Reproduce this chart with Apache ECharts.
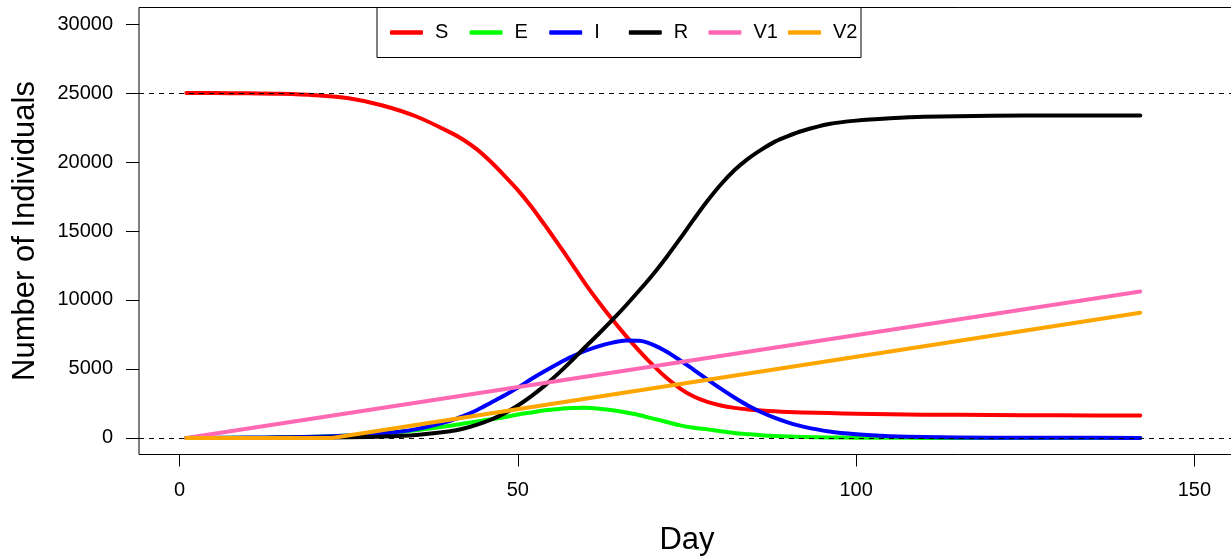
<!DOCTYPE html>
<html>
<head>
<meta charset="utf-8">
<script src="https://cdn.jsdelivr.net/npm/echarts@6/dist/echarts.min.js"></script>
<style>
html,body{margin:0;padding:0;background:#fff;}
#chart{width:1231px;height:558px;}
</style>
</head>
<body>
<div id="chart"></div>
<script>
// ---- data ----
const days    = [1, 5, 10, 15, 20, 25, 30, 35, 40, 42, 44, 46, 48, 50, 52, 54, 56, 58, 60, 62, 64, 66, 68, 70, 72, 74, 76, 78, 80, 82, 84, 86, 88, 90, 92, 96, 100, 105, 110, 120, 130, 142];
const sValues = [25000, 24995, 24980, 24940, 24840, 24620, 24100, 23300, 22150, 21600, 20900, 20020, 19020, 17960, 16760, 15420, 14030, 12600, 11150, 9820, 8560, 7380, 6280, 5260, 4340, 3580, 3000, 2610, 2350, 2180, 2070, 1990, 1930, 1880, 1850, 1800, 1760, 1720, 1690, 1660, 1640, 1625];
const eValues = [0, 5, 15, 35, 80, 170, 330, 560, 880, 1050, 1200, 1360, 1500, 1700, 1850, 2000, 2100, 2170, 2180, 2120, 2010, 1840, 1650, 1400, 1160, 910, 740, 620, 490, 360, 270, 190, 140, 100, 70, 35, 20, 8, 4, 1, 0, 0];
const iValues = [0, 10, 25, 45, 80, 170, 320, 640, 1250, 1600, 2030, 2550, 3070, 3650, 4270, 4850, 5400, 5900, 6320, 6660, 6910, 7060, 7040, 6750, 6250, 5620, 4940, 4250, 3570, 2930, 2350, 1860, 1450, 1110, 840, 470, 270, 130, 60, 20, 8, 5];
const rValues = [0, 0, 2, 8, 20, 45, 100, 220, 480, 680, 960, 1320, 1780, 2350, 3030, 3810, 4680, 5620, 6610, 7570, 8570, 9620, 10720, 11870, 13120, 14460, 15840, 17170, 18370, 19400, 20230, 20900, 21480, 21900, 22250, 22750, 23000, 23170, 23280, 23350, 23370, 23380];
const v1Days = [1, 142];
const v1Values = [0, 10620];
const v2Days = [1, 22.5, 142];
const v2Values = [0, 0, 9080];

const seriesNames = ['S', 'E', 'I', 'R', 'V1', 'V2'];
const seriesColors = ['#FF0000', '#00FF00', '#0000FF', '#000000', '#FF69B4', '#FFA500'];
const xTicks = [0, 50, 100, 150];
const yTicks = [0, 5000, 10000, 15000, 20000, 25000, 30000];
const refLines = [0, 25000];

const FONT = '"Liberation Sans", Arial, Helvetica, sans-serif';

function pairs(xs, ys) { return xs.map((x, i) => [x, ys[i]]); }
const seriesData = [
  pairs(days, sValues),
  pairs(days, eValues),
  pairs(days, iValues),
  pairs(days, rValues),
  pairs(v1Days, v1Values),
  pairs(v2Days, v2Values)
];

const series = seriesNames.map((name, k) => ({
  name: name,
  type: 'line',
  data: seriesData[k],
  showSymbol: false,
  symbol: 'none',
  smooth: k < 4 ? 0.3 : false,
  lineStyle: { color: seriesColors[k], width: 4, cap: 'round', join: 'round' },
  itemStyle: { color: seriesColors[k] },
  z: 2 + k
}));
// dashed horizontal reference lines drawn on top
series.push({
  name: 'ref',
  type: 'line',
  data: [],
  z: 20,
  markLine: {
    silent: true,
    symbol: ['none', 'none'],
    label: { show: false },
    lineStyle: { color: '#000', width: 1, type: [5, 5] },
    data: refLines.map(v => ({ yAxis: v }))
  }
});

const chart = echarts.init(document.getElementById('chart'), null, { renderer: 'canvas' });
chart.setOption({
  animation: false,
  backgroundColor: '#ffffff',
  grid: {
    left: 139, right: -4, top: 7.5, bottom: 103.5,
    containLabel: false,
    outerBoundsMode: 'none',
    show: true, borderColor: '#000', borderWidth: 1, backgroundColor: 'transparent'
  },
  legend: {
    data: seriesNames,
    left: 377, top: 7.5,
    orient: 'horizontal',
    padding: [15, 3, 15, 13],
    itemGap: 9.6,
    itemWidth: 33,
    itemHeight: 4.5,
    icon: 'roundRect',
    borderColor: '#000',
    borderWidth: 1,
    borderRadius: 0,
    backgroundColor: '#fff',
    selectedMode: false,
    textStyle: { fontFamily: FONT, fontSize: 20, color: '#000', width: 25, padding: [0, 0, 0, 7], lineHeight: 20 }
  },
  xAxis: {
    type: 'value',
    min: -6, max: 156,
    name: 'Day',
    nameLocation: 'middle',
    nameGap: 70,
    nameTextStyle: { fontFamily: FONT, fontSize: 31, color: '#000' },
    axisLine: { show: false, onZero: false },
    splitLine: { show: false },
    axisTick: { show: true, length: 12, lineStyle: { color: '#000', width: 1 }, customValues: xTicks },
    axisLabel: { fontFamily: FONT, fontSize: 20, color: '#000', margin: 26, customValues: xTicks }
  },
  yAxis: {
    type: 'value',
    min: -1200, max: 31200,
    name: 'Number of Individuals',
    nameLocation: 'middle',
    nameGap: 98,
    nameTextStyle: { fontFamily: FONT, fontSize: 31, color: '#000' },
    axisLine: { show: false, onZero: false },
    splitLine: { show: false },
    axisTick: { show: true, length: 13, lineStyle: { color: '#000', width: 1 }, customValues: yTicks },
    axisLabel: { fontFamily: FONT, fontSize: 20, color: '#000', margin: 26, customValues: yTicks, formatter: v => String(v) }
  },
  series: series
});
</script>
</body>
</html>
